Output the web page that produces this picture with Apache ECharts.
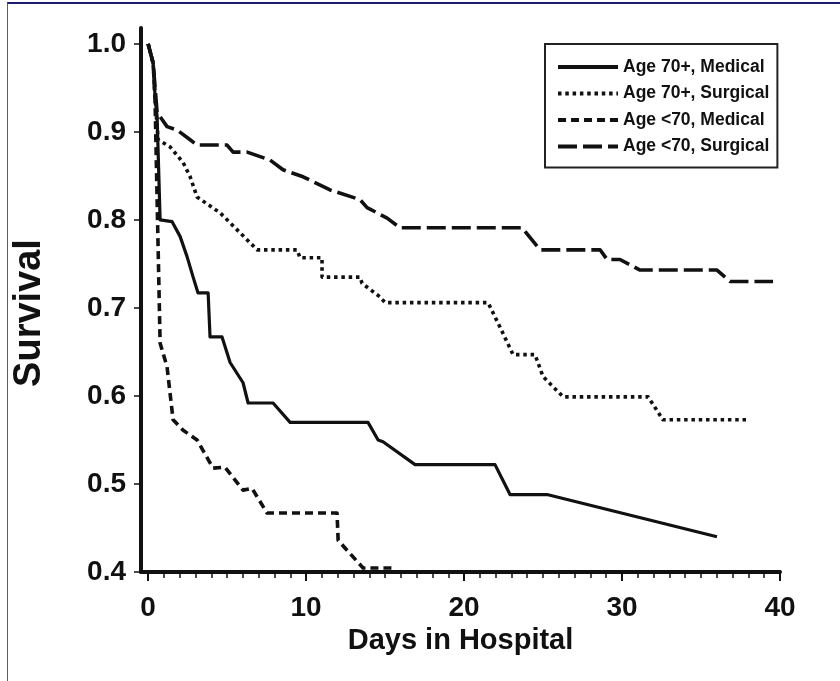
<!DOCTYPE html>
<html>
<head>
<meta charset="utf-8">
<script src="https://cdn.jsdelivr.net/npm/echarts@6/dist/echarts.min.js"></script>
<style>
  html, body { margin: 0; padding: 0; background: #fff; }
  #frame { position: absolute; left: 7px; top: 2px; width: 833px; height: 679px;
           border-top: 2px solid #1c1c72; border-left: 1px solid #5a5a80; box-sizing: border-box; }
  #chart { position: absolute; left: 0; top: 0; width: 840px; height: 681px; }
</style>
</head>
<body>
<div id="frame"></div>
<div id="chart"></div>
<script>
// ---- data ----
const seriesNames = ['Age 70+, Medical', 'Age 70+, Surgical', 'Age <70, Medical', 'Age <70, Surgical'];

const med70Days = [0, 0.32, 0.44, 0.57, 0.76, 1.52, 2.03, 2.47, 2.85, 3.16, 3.80, 3.92, 4.68, 5.19, 6.01, 6.33, 7.91, 8.99, 13.92, 14.56, 14.87, 16.90, 21.96, 22.91, 25.25, 36.01];
const med70Surv = [1.0, 0.978, 0.940, 0.917, 0.800, 0.798, 0.781, 0.758, 0.735, 0.717, 0.717, 0.667, 0.667, 0.638, 0.615, 0.592, 0.592, 0.570, 0.570, 0.550, 0.548, 0.522, 0.522, 0.488, 0.488, 0.440];

const surg70Days = [0, 0.32, 0.44, 0.63, 1.39, 2.22, 2.66, 3.10, 4.56, 6.90, 9.43, 9.62, 11.01, 11.01, 13.42, 13.54, 14.68, 15.0, 21.52, 22.28, 23.10, 24.49, 25.0, 26.27, 31.65, 32.59, 37.91];
const surg70Surv = [1.0, 0.978, 0.940, 0.891, 0.883, 0.865, 0.849, 0.826, 0.808, 0.766, 0.766, 0.757, 0.757, 0.735, 0.735, 0.728, 0.7125, 0.706, 0.706, 0.678, 0.647, 0.647, 0.622, 0.599, 0.599, 0.573, 0.573];

const medU70Days = [0, 0.32, 0.44, 0.57, 0.76, 1.20, 1.58, 2.22, 3.10, 4.11, 4.87, 6.01, 6.58, 7.53, 11.96, 12.03, 13.61, 15.51];
const medU70Surv = [1.0, 0.978, 0.936, 0.823, 0.660, 0.633, 0.573, 0.561, 0.550, 0.518, 0.519, 0.493, 0.495, 0.467, 0.467, 0.436, 0.4045, 0.4045];

const surgU70Days = [0, 0.32, 0.57, 1.20, 1.84, 2.66, 3.10, 5.0, 5.38, 6.27, 7.72, 8.54, 9.81, 11.52, 13.42, 13.86, 15.13, 15.95, 23.67, 24.81, 28.61, 29.05, 29.87, 31.14, 36.01, 36.84, 39.56];
const surgU70Surv = [1.0, 0.978, 0.922, 0.906, 0.902, 0.891, 0.885, 0.885, 0.877, 0.877, 0.868, 0.857, 0.849, 0.834, 0.823, 0.814, 0.802, 0.791, 0.791, 0.766, 0.766, 0.755, 0.755, 0.743, 0.743, 0.730, 0.730];

const xTickLabels = [0, 10, 20, 30, 40];
const xMinorTicks = Array.from({length: 41}, (_, i) => i);
const yTickLabels = [0.4, 0.5, 0.6, 0.7, 0.8, 0.9, 1.0];

// ---- chart ----
const zip = (xs, ys) => xs.map((x, i) => [x, ys[i]]);
const FONT = '"Liberation Sans", Arial, sans-serif';

const chart = echarts.init(document.getElementById('chart'), null, {renderer: 'canvas'});

function lineSeries(name, data, type, width) {
  return {
    name: name,
    type: 'line',
    data: data,
    symbol: 'none',
    smooth: false,
    xAxisIndex: 0,
    yAxisIndex: 0,
    lineStyle: { color: '#111', width: width, type: type, cap: 'butt', join: 'round' },
    itemStyle: { color: '#111' },
    emphasis: { disabled: true },
    animation: false
  };
}

chart.setOption({
  backgroundColor: 'transparent',
  animation: false,
  grid: { left: 141, right: 60, top: 28, bottom: 109, containLabel: false, outerBoundsMode: 'none' },
  legend: {
    orient: 'vertical',
    left: 545,
    top: 44,
    padding: [14, 8, 12, 11],
    borderColor: '#222',
    borderWidth: 2,
    itemWidth: 60,
    itemHeight: 4,
    itemGap: 8.5,
    selectedMode: false,
    itemStyle: { opacity: 0, color: 'rgba(0,0,0,0)', borderWidth: 0 },
    lineStyle: { width: 4 },
    textStyle: { fontFamily: FONT, fontWeight: 'bold', fontSize: 17.5, color: '#111', lineHeight: 18 },
    data: seriesNames
  },
  xAxis: [{
    type: 'value',
    min: -0.45,
    max: 40,
    name: 'Days in Hospital',
    nameLocation: 'middle',
    nameGap: 54,
    nameTextStyle: { fontFamily: FONT, fontWeight: 'bold', fontSize: 29, color: '#111' },
    axisLine: { show: true, onZero: false, lineStyle: { color: '#111', width: 4 } },
    axisTick: { show: true, inside: false, length: 9, lineStyle: { color: '#111', width: 2 }, customValues: xTickLabels },
    axisLabel: { show: true, margin: 22, fontFamily: FONT, fontWeight: 'bold', fontSize: 28, color: '#111', customValues: xTickLabels },
    splitLine: { show: false }
  }, {
    type: 'value',
    min: -0.45,
    max: 40,
    position: 'bottom',
    axisLine: { show: false },
    axisTick: { show: true, length: 6, lineStyle: { color: '#111', width: 1.5 }, customValues: xMinorTicks },
    axisLabel: { show: false },
    splitLine: { show: false }
  }],
  yAxis: {
    type: 'value',
    min: 0.4,
    max: 1.018,
    name: 'Survival',
    nameLocation: 'middle',
    nameRotate: 90,
    nameGap: 92,
    nameTextStyle: { fontFamily: FONT, fontWeight: 'bold', fontSize: 38, color: '#111', padding: [0, 26, 0, 0] },
    axisLine: { show: true, onZero: false, lineStyle: { color: '#111', width: 4 } },
    axisTick: { show: true, length: 7, lineStyle: { color: '#111', width: 1.5 }, customValues: yTickLabels },
    axisLabel: {
      show: true, margin: 15, fontFamily: FONT, fontWeight: 'bold', fontSize: 28, color: '#111',
      customValues: yTickLabels,
      formatter: v => Number(v).toFixed(1)
    },
    splitLine: { show: false }
  },
  series: [
    lineSeries(seriesNames[0], zip(med70Days, med70Surv), 'solid', 3.2),
    lineSeries(seriesNames[1], zip(surg70Days, surg70Surv), [3.5, 3.8], 3.6),
    lineSeries(seriesNames[2], zip(medU70Days, medU70Surv), [8, 5], 3.6),
    lineSeries(seriesNames[3], zip(surgU70Days, surgU70Surv), [19, 6], 3.6)
  ]
});
</script>
</body>
</html>
